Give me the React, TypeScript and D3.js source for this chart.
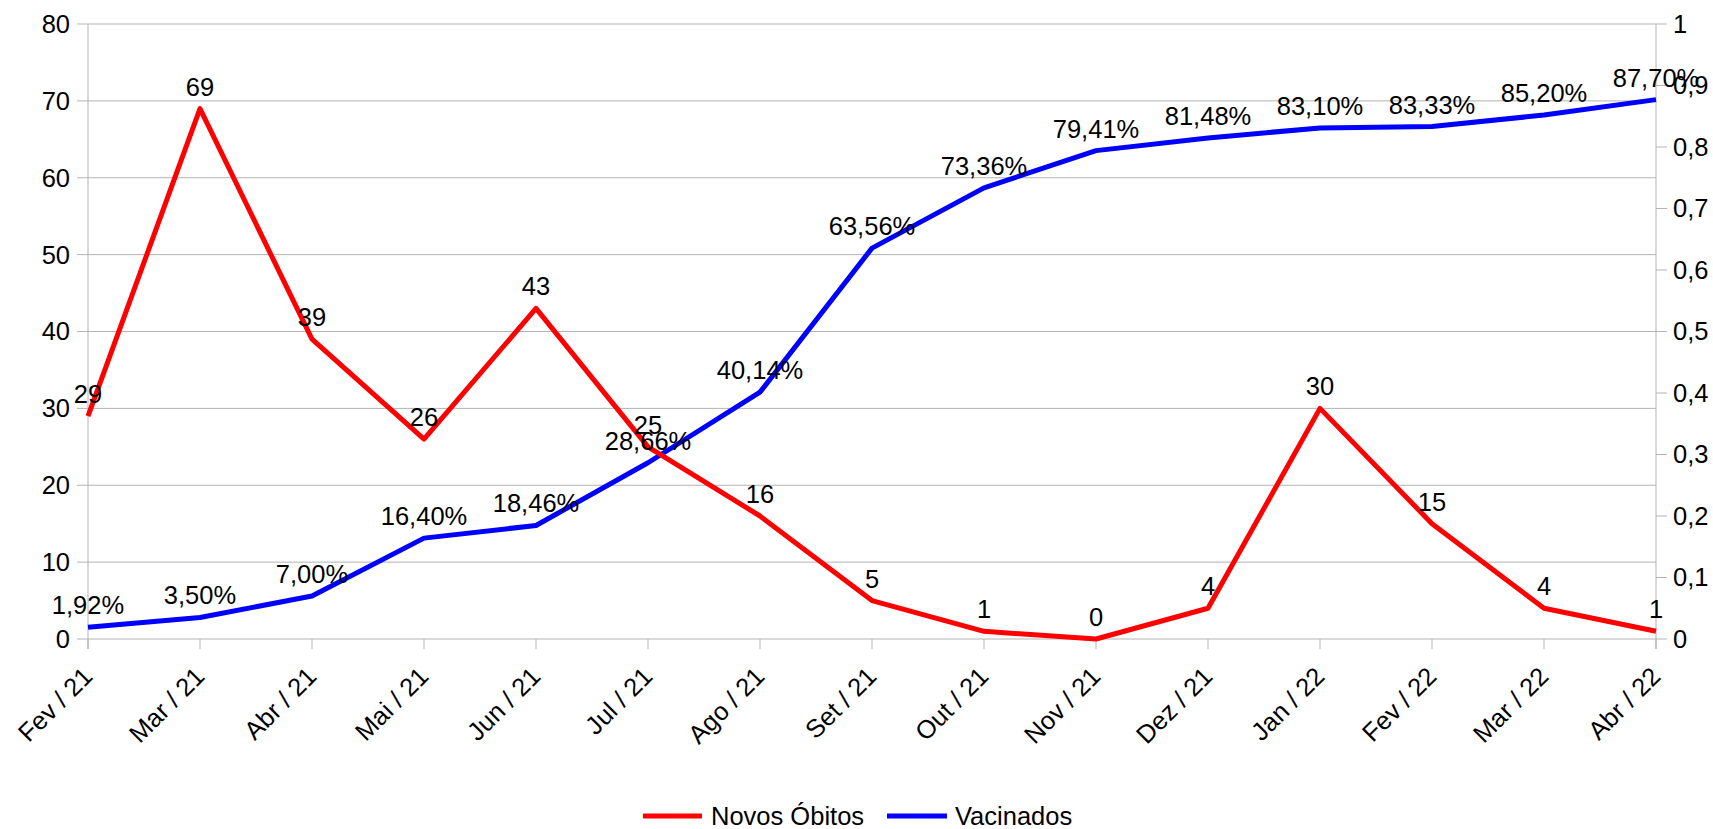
import React, { useEffect, useRef } from 'react';
import * as d3 from 'd3';

const months = [
  'Fev / 21', 'Mar / 21', 'Abr / 21', 'Mai / 21', 'Jun / 21', 'Jul / 21', 'Ago / 21', 'Set / 21',
  'Out / 21', 'Nov / 21', 'Dez / 21', 'Jan / 22', 'Fev / 22', 'Mar / 22', 'Abr / 22',
];
const novosObitos = [29, 69, 39, 26, 43, 25, 16, 5, 1, 0, 4, 30, 15, 4, 1];
const vacinados = [0.0192, 0.035, 0.07, 0.164, 0.1846, 0.2866, 0.4014, 0.6356, 0.7336, 0.7941, 0.8148, 0.831, 0.8333, 0.852, 0.877];
const leftTicks = [0, 10, 20, 30, 40, 50, 60, 70, 80];
const rightTicks = [0, 0.1, 0.2, 0.3, 0.4, 0.5, 0.6, 0.7, 0.8, 0.9, 1];

const W = 1713;
const H = 829;
const FONT = '"Liberation Sans", Arial, sans-serif';

const App: React.FC = () => {
  const svgRef = useRef<SVGSVGElement>(null);

  useEffect(() => {
    if (!svgRef.current) return;
    const svg = d3.select(svgRef.current);
    svg.selectAll('*').remove();

    const m = { left: 88, right: 1656, top: 24, bottom: 639 };
    const x = d3.scalePoint<string>().domain(months).range([m.left, m.right]);
    const yL = d3.scaleLinear().domain([0, 80]).range([m.bottom, m.top]);
    const yR = d3.scaleLinear().domain([0, 1]).range([m.bottom, m.top]);
    const grid = '#b3b3b3';

    const g = svg.append('g').attr('font-family', FONT).attr('font-size', 25.5).attr('fill', '#000');

    // horizontal gridlines + left ticks
    leftTicks.forEach(t => {
      g.append('line')
        .attr('x1', m.left - 11).attr('x2', m.right)
        .attr('y1', yL(t)).attr('y2', yL(t))
        .attr('stroke', grid).attr('stroke-width', 1);
      g.append('text')
        .attr('x', m.left - 18).attr('y', yL(t))
        .attr('dy', '0.35em').attr('text-anchor', 'end')
        .text(String(t));
    });

    // right ticks
    rightTicks.forEach(t => {
      g.append('line')
        .attr('x1', m.right).attr('x2', m.right + 11)
        .attr('y1', yR(t)).attr('y2', yR(t))
        .attr('stroke', grid).attr('stroke-width', 1);
      g.append('text')
        .attr('x', m.right + 17).attr('y', yR(t))
        .attr('dy', '0.35em').attr('text-anchor', 'start')
        .text(d3.format('~g')(t).replace('.', ','));
    });

    // axis lines
    g.append('line').attr('x1', m.left).attr('x2', m.left).attr('y1', m.top).attr('y2', m.bottom + 10)
      .attr('stroke', grid);
    g.append('line').attr('x1', m.right).attr('x2', m.right).attr('y1', m.top).attr('y2', m.bottom + 10)
      .attr('stroke', grid);

    // category ticks + labels
    months.forEach(mo => {
      const px = x(mo)!;
      g.append('line').attr('x1', px).attr('x2', px).attr('y1', m.bottom).attr('y2', m.bottom + 10)
        .attr('stroke', grid);
      g.append('text')
        .attr('transform', `translate(${px + 6},${m.bottom + 39}) rotate(-45)`)
        .attr('text-anchor', 'end')
        .text(mo);
    });

    const lineL = d3.line<number>().x((_, i) => x(months[i])!).y(d => yL(d));
    const lineR = d3.line<number>().x((_, i) => x(months[i])!).y(d => yR(d));

    g.append('path').datum(vacinados).attr('d', lineR).attr('fill', 'none')
      .attr('stroke', '#0000ff').attr('stroke-width', 5).attr('stroke-linejoin', 'round');
    g.append('path').datum(novosObitos).attr('d', lineL).attr('fill', 'none')
      .attr('stroke', '#ff0000').attr('stroke-width', 5).attr('stroke-linejoin', 'round');

    // data labels
    novosObitos.forEach((v, i) => {
      g.append('text').attr('x', x(months[i])!).attr('y', yL(v) - 13)
        .attr('text-anchor', 'middle').text(String(v));
    });
    vacinados.forEach((v, i) => {
      g.append('text').attr('x', x(months[i])!).attr('y', yR(v) - 13)
        .attr('text-anchor', 'middle').text((v * 100).toFixed(2).replace('.', ',') + '%');
    });

    // legend
    const ly = 816;
    g.append('line').attr('x1', 643).attr('x2', 702).attr('y1', ly).attr('y2', ly)
      .attr('stroke', '#ff0000').attr('stroke-width', 5);
    g.append('text').attr('x', 711).attr('y', ly).attr('dy', '0.35em').text('Novos Óbitos');
    g.append('line').attr('x1', 887).attr('x2', 947).attr('y1', ly).attr('y2', ly)
      .attr('stroke', '#0000ff').attr('stroke-width', 5);
    g.append('text').attr('x', 955).attr('y', ly).attr('dy', '0.35em').text('Vacinados');
  }, []);

  return (
    <svg ref={svgRef} width={W} height={H} viewBox={`0 0 ${W} ${H}`}
      style={{ position: 'absolute', left: 0, top: 0, background: '#fff' }} />
  );
};

export default App;
